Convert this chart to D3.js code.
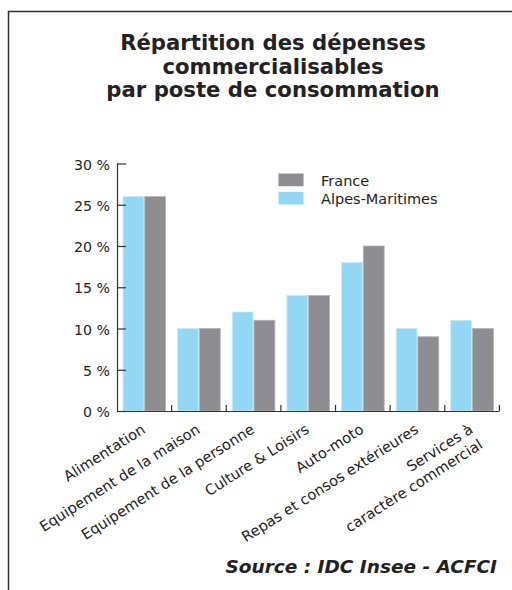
<!DOCTYPE html>
<html>
<head>
<meta charset="utf-8">
<script src="https://cdn.jsdelivr.net/npm/d3@7"></script>
<style>
  html, body { margin: 0; padding: 0; background: #fff; }
  svg { display: block; font-family: "DejaVu Sans", sans-serif; }
</style>
</head>
<body>
<svg id="chart" width="512" height="590"></svg>
<script>
const categories = [
  ["Alimentation"],
  ["Equipement de la maison"],
  ["Equipement de la personne"],
  ["Culture & Loisirs"],
  ["Auto-moto"],
  ["Repas et consos extérieures"],
  ["Services à", "caractère commercial"]
];
const seriesNames = ["Alpes-Maritimes", "France"];
const alpesMaritimes = [26, 10, 12, 14, 18, 10, 11];
const france = [26, 10, 11, 14, 20, 9, 10];
const yTicks = [0, 5, 10, 15, 20, 25, 30];
const titleLines = ["Répartition des dépenses", "commercialisables", "par poste de consommation"];
const sourceText = "Source : IDC Insee - ACFCI";

const colors = { "Alpes-Maritimes": "#94d7f5", "France": "#8e8e92" };

const svg = d3.select("#chart");

// frame
svg.append("path")
  .attr("d", "M8.5,590 L8.5,11.5 L512,11.5")
  .attr("fill", "none").attr("stroke", "#333").attr("stroke-width", 1.5);

// title
svg.append("text")
  .attr("x", 273).attr("y", 50)
  .attr("text-anchor", "middle")
  .attr("font-size", 21.2).attr("font-weight", "bold").attr("fill", "#222")
  .selectAll("tspan").data(titleLines).join("tspan")
  .attr("x", 273).attr("dy", (d, i) => i === 0 ? 0 : 23.5)
  .text(d => d);

const x0 = 117, x1 = 499.4, yBase = 411, yTop = 163.5;
const x = d3.scaleBand().domain(d3.range(categories.length)).range([x0, x1]).paddingInner(0).paddingOuter(0);
const xs = d3.scaleBand().domain(seriesNames).range([6, x.bandwidth() - 6]).paddingInner(0.04);
const y = d3.scaleLinear().domain([0, 30]).range([yBase, yTop]);

const data = categories.map((c, i) => ({ i, values: [
  { name: "Alpes-Maritimes", v: alpesMaritimes[i] },
  { name: "France", v: france[i] }
]}));

// bars
const g = svg.append("g");
g.selectAll("g.cat").data(data).join("g")
  .attr("class", "cat")
  .attr("transform", d => `translate(${x(d.i)},0)`)
  .selectAll("rect").data(d => d.values).join("rect")
  .attr("x", d => xs(d.name))
  .attr("width", xs.bandwidth())
  .attr("y", d => y(d.v))
  .attr("height", d => y(0) - y(d.v))
  .attr("fill", d => colors[d.name])
  .attr("stroke", d => d.name === "France" ? "#b5b5b8" : "#c8ecfb")
  .attr("stroke-width", 0.8);

// y axis
const yAxis = d3.axisRight(y).tickValues(yTicks).tickSize(9).tickFormat("");
const ya = svg.append("g").attr("transform", `translate(${x0},0)`).call(yAxis);
ya.select(".domain").attr("stroke", "#333").attr("stroke-width", 1.2).attr("d", `M0.5,${yTop}V${yBase}`);
ya.selectAll(".tick line").attr("stroke", "#333").attr("stroke-width", 1.2);

svg.append("g").selectAll("text").data(yTicks).join("text")
  .attr("x", 110).attr("y", d => y(d) + 6)
  .attr("text-anchor", "end").attr("font-size", 14.2).attr("fill", "#222")
  .text(d => d + " %");

// x axis
const tickPos = d3.range(categories.length + 1).map(i => i < categories.length ? x(i) : x1);
svg.append("line")
  .attr("x1", x0).attr("x2", x1).attr("y1", yBase + 0.5).attr("y2", yBase + 0.5)
  .attr("stroke", "#333").attr("stroke-width", 1.2);
svg.append("g").selectAll("line").data(tickPos.slice(1)).join("line")
  .attr("x1", d => d).attr("x2", d => d)
  .attr("y1", yBase).attr("y2", yBase - 6)
  .attr("stroke", "#333").attr("stroke-width", 1.2);

// x labels
const angle = -32.5;
svg.append("g").selectAll("text").data(categories).join("text")
  .attr("text-anchor", "end").attr("font-size", 14.6).attr("fill", "#222")
  .attr("transform", (d, i) => `translate(${x(i) + x.bandwidth() / 2 + 2},${yBase + 21}) rotate(${angle})`)
  .each(function(lines) {
    d3.select(this).selectAll("tspan").data(lines).join("tspan")
      .attr("x", 0).attr("dy", (d, k) => k === 0 ? 0 : 18)
      .text(d => d);
  });

// legend
const legend = svg.append("g");
const legendItems = ["France", "Alpes-Maritimes"];
legend.selectAll("rect").data(legendItems).join("rect")
  .attr("x", 278.5).attr("y", (d, i) => 173.5 + i * 18.3)
  .attr("width", 25).attr("height", 12.7)
  .attr("fill", d => colors[d]);
legend.selectAll("text").data(legendItems).join("text")
  .attr("x", 321).attr("y", (d, i) => 186 + i * 18.3)
  .attr("font-size", 14.5).attr("fill", "#222")
  .text(d => d);

// source
svg.append("text")
  .attr("x", 497).attr("y", 573)
  .attr("text-anchor", "end")
  .attr("font-size", 18.5).attr("font-weight", "bold").attr("font-style", "italic").attr("fill", "#222")
  .text(sourceText);
</script>
</body>
</html>
